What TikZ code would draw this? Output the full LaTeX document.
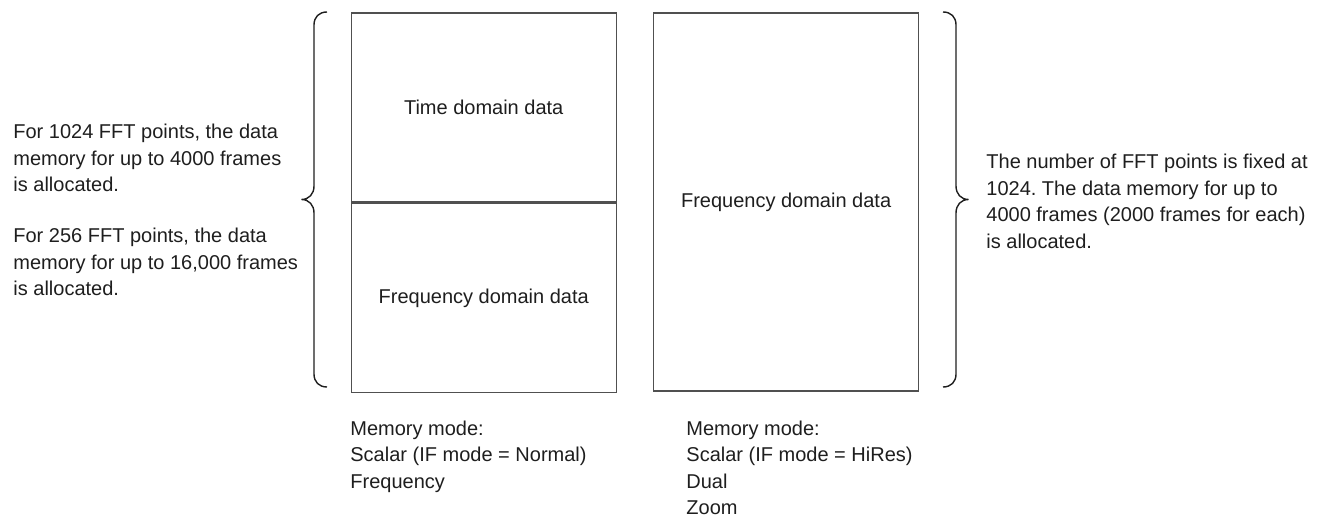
\documentclass[tikz,border=0pt]{standalone}
\usepackage{fontspec}
\setmainfont{Liberation Sans}
\usetikzlibrary{positioning}
\definecolor{inkgray}{RGB}{30,30,30}
\definecolor{framegray}{RGB}{80,80,80}
\frenchspacing

\tikzset{
  membox/.style={draw=framegray,line width=0.7pt,minimum width=132.5pt,minimum height=94.5pt,
    inner sep=0pt,text=inkgray,font=\fontsize{10}{13.25}\selectfont},
  note/.style={align=left,inner sep=0pt,anchor=north west,text=inkgray,
    font=\fontsize{10}{13.25}\selectfont},
  bracket/.style={draw=inkgray,line width=0.7pt},
}

\begin{document}
\begin{tikzpicture}[x=0.5pt,y=-0.5pt]
  \useasboundingbox (0,0) rectangle (1320,517);

  % memory blocks
  \node[membox,anchor=north west] (timedata) at (350.5,12.5) {Time domain data};
  \node[membox,anchor=north] (freqdata) at (timedata.south) {Frequency domain data};
  \node[membox,minimum height=189pt,right=18pt of timedata.north east,anchor=north west] (hiresdata) {Frequency domain data};

  % braces
  \draw[bracket] (327,12) .. controls (319,12) and (314,17) .. (314,25) -- (314,186)
    .. controls (314,194) and (309,199.5) .. (301.5,199.5)
    .. controls (309,199.5) and (314,205) .. (314,213) -- (314,374)
    .. controls (314,382) and (319,387) .. (327,387);
  \draw[bracket] (943,12) .. controls (951,12) and (956,17) .. (956,25) -- (956,186)
    .. controls (956,194) and (961,199.5) .. (968.5,199.5)
    .. controls (961,199.5) and (956,205) .. (956,213) -- (956,374)
    .. controls (956,382) and (951,387) .. (943,387);

  % notes
  \node[note] (fftnote) at (13,124) {For 1024 FFT points, the data\\
    memory for up to 4000 frames\\
    is allocated.\\[12.25pt]
    For 256 FFT points, the data\\
    memory for up to 16,000 frames\\
    is allocated.};
  \node[note] (fixednote) at (986,154) {The number of FFT points is fixed at\\
    1024. The data memory for up to\\
    4000 frames (2000 frames for each)\\
    is allocated.};
  \node[note] (normalmode) at (350,420.5) {Memory mode:\\
    Scalar (IF mode = Normal)\\
    Frequency};
  \node[note] (hiresmode) at (686,420.5) {Memory mode:\\
    Scalar (IF mode = HiRes)\\
    Dual\\
    Zoom};
\end{tikzpicture}
\end{document}
